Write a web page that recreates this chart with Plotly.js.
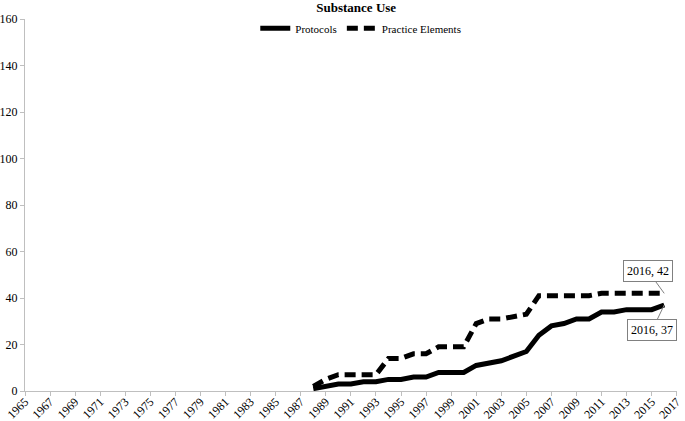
<!DOCTYPE html>
<html>
<head>
<meta charset="utf-8">
<script src="https://cdn.plot.ly/plotly-3.0.1.min.js"></script>
<style>html,body{margin:0;padding:0;background:#fff;}#chart{width:685px;height:421px;}</style>
</head>
<body>
<div id="chart"></div>
<script>
var years = [1988,1989,1990,1991,1992,1993,1994,1995,1996,1997,1998,1999,2000,2001,2002,2003,2004,2005,2006,2007,2008,2009,2010,2011,2012,2013,2014,2015,2016];
var protocols = [1,2,3,3,4,4,5,5,6,6,8,8,8,11,12,13,15,17,24,28,29,31,31,34,34,35,35,35,37];
var practiceElements = [2,5,7,7,7,7,14,14,16,16,19,19,19,29,31,31,32,33,41,41,41,41,41,42,42,42,42,42,42];
var xTicks = [];
for (var y = 1965; y <= 2017; y += 2) xTicks.push(y);

var font = 'Liberation Serif, Times New Roman, serif';
var traces = [
  {x: years, y: protocols, name: 'Protocols', mode: 'lines', line: {color: '#000', width: 5}},
  {x: years, y: practiceElements, name: 'Practice Elements', mode: 'lines', line: {color: '#000', width: 5, dash: '11px,6px'}}
];
var layout = {
  width: 685, height: 421,
  margin: {l: 25, r: 8, t: 19, b: 30},
  paper_bgcolor: '#fff', plot_bgcolor: '#fff',
  font: {family: font, size: 12, color: '#000'},
  title: {text: '<b>Substance Use</b>', font: {family: font, size: 13, color: '#000'}, x: 0.52, xanchor: 'center', y: 0.982, yanchor: 'middle'},
  showlegend: true,
  legend: {orientation: 'h', x: 0.515, xanchor: 'center', y: 0.975, yanchor: 'middle', font: {family: font, size: 11}, bgcolor: 'rgba(0,0,0,0)', itemwidth: 30},
  xaxis: {range: [1965, 2017.02], tickmode: 'array', tickvals: xTicks, ticktext: xTicks.map(String), tickangle: -45,
          showgrid: false, zeroline: false, showline: true, linecolor: '#bfbfbf', linewidth: 1,
          ticks: 'outside', ticklen: 4, tickcolor: '#bfbfbf', tickfont: {family: font, size: 12}, ticklabelstandoff: -6,
          ticklabeloverflow: 'allow'},
  yaxis: {range: [0, 160], dtick: 20, showgrid: false, zeroline: false, showline: true, linecolor: '#bfbfbf', linewidth: 1,
          ticks: 'outside', ticklen: 4, tickcolor: '#bfbfbf', tickfont: {family: font, size: 12}},
  annotations: [
    {x: 2016, y: 42, xref: 'x', yref: 'y', text: '2016, 42', showarrow: true, arrowhead: 0, arrowwidth: 1, arrowcolor: '#808080',
     ax: -16, ay: -22, bordercolor: '#808080', borderwidth: 1, borderpad: 3, bgcolor: '#fff', font: {family: font, size: 12}},
    {x: 2016, y: 37, xref: 'x', yref: 'y', text: '2016, 37', showarrow: true, arrowhead: 0, arrowwidth: 1, arrowcolor: '#808080',
     ax: -12, ay: 25, bordercolor: '#808080', borderwidth: 1, borderpad: 3, bgcolor: '#fff', font: {family: font, size: 12}}
  ]
};
Plotly.newPlot('chart', traces, layout, {displayModeBar: false, staticPlot: true});
</script>
</body>
</html>
